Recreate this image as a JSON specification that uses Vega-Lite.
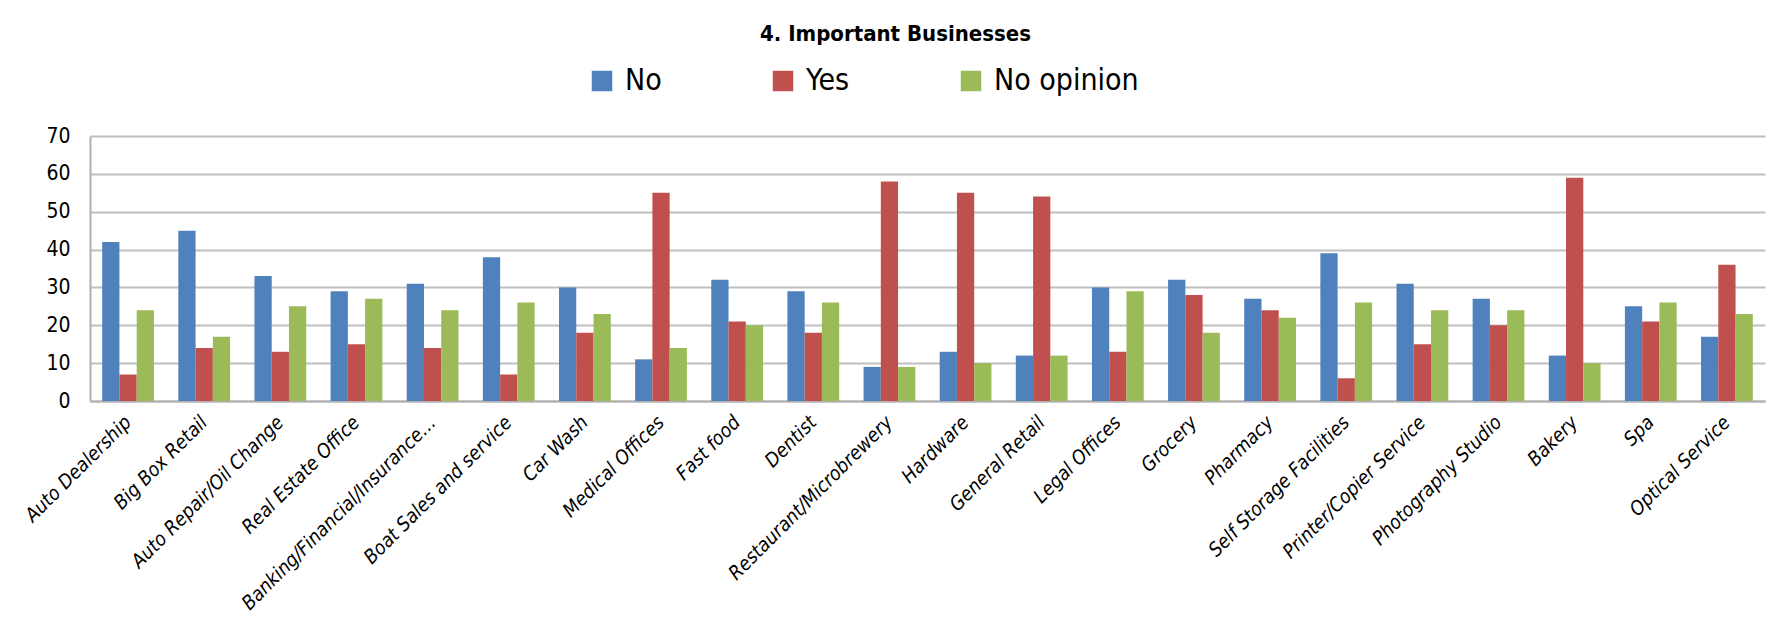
{
  "$schema": "https://vega.github.io/schema/vega-lite/v6.json",
  "autosize": "none",
  "width": 1675,
  "height": 265,
  "padding": {"left": 90, "top": 136, "right": 13, "bottom": 223},
  "background": "white",
  "title": {
    "text": "4. Important Businesses",
    "anchor": "middle",
    "offset": 20,
    "dx": -32,
    "fontSize": 22,
    "fontWeight": "bold",
    "font": "DejaVu Sans Condensed, sans-serif",
    "color": "#000000"
  },
  "data": {
    "values": [
      {"business": "Auto Dealership", "response": "No", "value": 42},
      {"business": "Auto Dealership", "response": "Yes", "value": 7},
      {"business": "Auto Dealership", "response": "No opinion", "value": 24},
      {"business": "Big Box Retail", "response": "No", "value": 45},
      {"business": "Big Box Retail", "response": "Yes", "value": 14},
      {"business": "Big Box Retail", "response": "No opinion", "value": 17},
      {"business": "Auto Repair/Oil Change", "response": "No", "value": 33},
      {"business": "Auto Repair/Oil Change", "response": "Yes", "value": 13},
      {"business": "Auto Repair/Oil Change", "response": "No opinion", "value": 25},
      {"business": "Real Estate Office", "response": "No", "value": 29},
      {"business": "Real Estate Office", "response": "Yes", "value": 15},
      {"business": "Real Estate Office", "response": "No opinion", "value": 27},
      {"business": "Banking/Financial/Insurance…", "response": "No", "value": 31},
      {"business": "Banking/Financial/Insurance…", "response": "Yes", "value": 14},
      {"business": "Banking/Financial/Insurance…", "response": "No opinion", "value": 24},
      {"business": "Boat Sales and service", "response": "No", "value": 38},
      {"business": "Boat Sales and service", "response": "Yes", "value": 7},
      {"business": "Boat Sales and service", "response": "No opinion", "value": 26},
      {"business": "Car Wash", "response": "No", "value": 30},
      {"business": "Car Wash", "response": "Yes", "value": 18},
      {"business": "Car Wash", "response": "No opinion", "value": 23},
      {"business": "Medical Offices", "response": "No", "value": 11},
      {"business": "Medical Offices", "response": "Yes", "value": 55},
      {"business": "Medical Offices", "response": "No opinion", "value": 14},
      {"business": "Fast food", "response": "No", "value": 32},
      {"business": "Fast food", "response": "Yes", "value": 21},
      {"business": "Fast food", "response": "No opinion", "value": 20},
      {"business": "Dentist", "response": "No", "value": 29},
      {"business": "Dentist", "response": "Yes", "value": 18},
      {"business": "Dentist", "response": "No opinion", "value": 26},
      {"business": "Restaurant/Microbrewery", "response": "No", "value": 9},
      {"business": "Restaurant/Microbrewery", "response": "Yes", "value": 58},
      {"business": "Restaurant/Microbrewery", "response": "No opinion", "value": 9},
      {"business": "Hardware", "response": "No", "value": 13},
      {"business": "Hardware", "response": "Yes", "value": 55},
      {"business": "Hardware", "response": "No opinion", "value": 10},
      {"business": "General Retail", "response": "No", "value": 12},
      {"business": "General Retail", "response": "Yes", "value": 54},
      {"business": "General Retail", "response": "No opinion", "value": 12},
      {"business": "Legal Offices", "response": "No", "value": 30},
      {"business": "Legal Offices", "response": "Yes", "value": 13},
      {"business": "Legal Offices", "response": "No opinion", "value": 29},
      {"business": "Grocery", "response": "No", "value": 32},
      {"business": "Grocery", "response": "Yes", "value": 28},
      {"business": "Grocery", "response": "No opinion", "value": 18},
      {"business": "Pharmacy", "response": "No", "value": 27},
      {"business": "Pharmacy", "response": "Yes", "value": 24},
      {"business": "Pharmacy", "response": "No opinion", "value": 22},
      {"business": "Self Storage Facilities", "response": "No", "value": 39},
      {"business": "Self Storage Facilities", "response": "Yes", "value": 6},
      {"business": "Self Storage Facilities", "response": "No opinion", "value": 26},
      {"business": "Printer/Copier Service", "response": "No", "value": 31},
      {"business": "Printer/Copier Service", "response": "Yes", "value": 15},
      {"business": "Printer/Copier Service", "response": "No opinion", "value": 24},
      {"business": "Photography Studio", "response": "No", "value": 27},
      {"business": "Photography Studio", "response": "Yes", "value": 20},
      {"business": "Photography Studio", "response": "No opinion", "value": 24},
      {"business": "Bakery", "response": "No", "value": 12},
      {"business": "Bakery", "response": "Yes", "value": 59},
      {"business": "Bakery", "response": "No opinion", "value": 10},
      {"business": "Spa", "response": "No", "value": 25},
      {"business": "Spa", "response": "Yes", "value": 21},
      {"business": "Spa", "response": "No opinion", "value": 26},
      {"business": "Optical Service", "response": "No", "value": 17},
      {"business": "Optical Service", "response": "Yes", "value": 36},
      {"business": "Optical Service", "response": "No opinion", "value": 23}
    ]
  },
  "mark": {"type": "bar"},
  "encoding": {
    "x": {
      "field": "business",
      "type": "nominal",
      "sort": null,
      "scale": {"paddingInner": 0.32, "paddingOuter": 0.16},
      "axis": {
        "title": null,
        "labelAngle": -45,
        "labelAlign": "right",
        "labelBaseline": "middle",
        "labelPadding": 18,
        "labelFontSize": 19.5,
        "labelFontStyle": "italic",
        "labelFont": "DejaVu Sans Condensed, sans-serif",
        "labelColor": "#000000",
        "labelLimit": 400,
        "ticks": false,
        "domainColor": "#b0b0b0",
        "domainWidth": 2,
        "grid": false
      }
    },
    "xOffset": {
      "field": "response",
      "type": "nominal",
      "sort": ["No", "Yes", "No opinion"],
      "scale": {"paddingInner": 0, "paddingOuter": 0}
    },
    "y": {
      "field": "value",
      "type": "quantitative",
      "scale": {"domain": [0, 70], "nice": false},
      "axis": {
        "title": null,
        "values": [0, 10, 20, 30, 40, 50, 60, 70],
        "labelFontSize": 21,
        "labelFont": "DejaVu Sans Condensed, sans-serif",
        "labelColor": "#000000",
        "labelPadding": 20,
        "ticks": false,
        "domainColor": "#b0b0b0",
        "domainWidth": 2,
        "gridColor": "#bfbfbf",
        "gridWidth": 2
      }
    },
    "color": {
      "field": "response",
      "type": "nominal",
      "sort": ["No", "Yes", "No opinion"],
      "scale": {"domain": ["No", "Yes", "No opinion"], "range": ["#4F81BD", "#C0504D", "#9BBB59"]},
      "legend": {
        "title": null,
        "orient": "none",
        "direction": "horizontal",
        "legendX": 497,
        "legendY": -70,
        "symbolType": "square",
        "symbolSize": 420,
        "symbolStrokeWidth": 0,
        "labelFontSize": 30,
        "labelFont": "DejaVu Sans Condensed, sans-serif",
        "labelColor": "#000000",
        "labelOffset": 8,
        "columnPadding": 106,
        "labelLimit": 300
      }
    }
  },
  "config": {
    "view": {"stroke": null}
  }
}
